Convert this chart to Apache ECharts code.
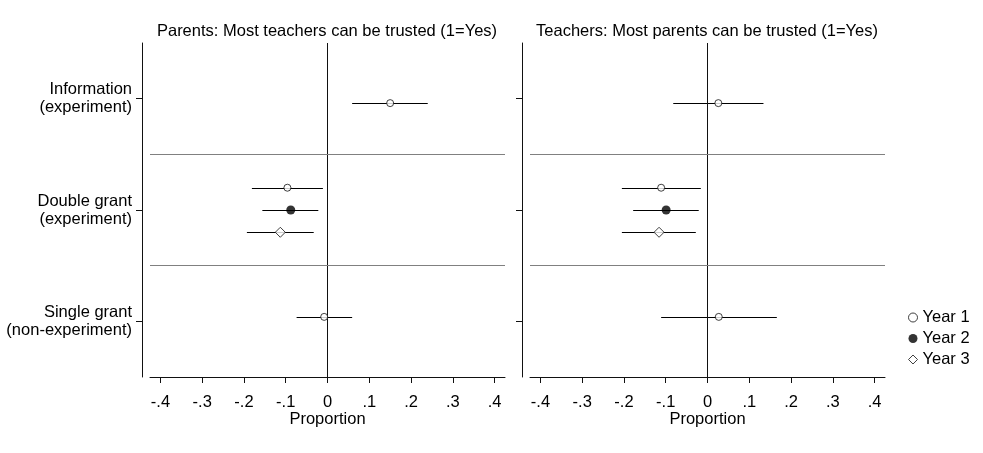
<!DOCTYPE html>
<html>
<head>
<meta charset="utf-8">
<script src="https://cdn.jsdelivr.net/npm/echarts@6/dist/echarts.min.js"></script>
<style>
  html, body { margin: 0; padding: 0; background: #fff; }
  #chart { width: 983px; height: 453px; }
</style>
</head>
<body>
<div id="chart"></div>
<script>
// categories top to bottom
var categories = ['Information\n(experiment)', 'Double grant\n(experiment)', 'Single grant\n(non-experiment)'];
var years = ['Year 1', 'Year 2', 'Year 3'];
var panelTitles = ['Parents: Most teachers can be trusted (1=Yes)', 'Teachers: Most parents can be trusted (1=Yes)'];

// [estimate, ci low, ci high] per category, null = not estimated
var parentsYear1 = [[0.150, 0.059, 0.240], [-0.096, -0.181, -0.011], [-0.008, -0.074, 0.059]];
var parentsYear2 = [null, [-0.088, -0.156, -0.022], null];
var parentsYear3 = [null, [-0.113, -0.193, -0.033], null];

var teachersYear1 = [[0.026, -0.082, 0.134], [-0.111, -0.205, -0.016], [0.027, -0.111, 0.166]];
var teachersYear2 = [null, [-0.099, -0.178, -0.021], null];
var teachersYear3 = [null, [-0.116, -0.205, -0.028], null];

var xTicks = [-0.4, -0.3, -0.2, -0.1, 0, 0.1, 0.2, 0.3, 0.4];
var xTickLabels = ['-.4', '-.3', '-.2', '-.1', '0', '.1', '.2', '.3', '.4'];

var FONT = 'Liberation Sans';
var FSIZE = 16.5;
var INK = '#111';

var markerStyles = [
    { symbol: 'circle', size: 7, itemStyle: { color: '#fff', borderColor: INK, borderWidth: 1 } },
    { symbol: 'circle', size: 9, itemStyle: { color: '#000', borderColor: '#000', borderWidth: 0 } },
    { symbol: 'diamond', size: 10, itemStyle: { color: '#fff', borderColor: INK, borderWidth: 1 } }
];

// vertical position of a point inside its category row
function rowPosition(catIndex, yearIndex, nYears) {
    if (nYears === 1) {
        return catIndex + 1 + (1 - catIndex) * 0.04;
    }
    return catIndex + 1 + (yearIndex - 1) * 0.2;
}

function countYears(yearArrays, catIndex) {
    var n = 0;
    yearArrays.forEach(function (arr) { if (arr[catIndex]) n++; });
    return n;
}

function errorBarRender(params, api) {
    var y = api.value(0);
    var p1 = api.coord([api.value(1), y]);
    var p2 = api.coord([api.value(2), y]);
    var py = Math.round(p1[1]) + 0.5;
    return {
        type: 'line',
        shape: { x1: p1[0], y1: py, x2: p2[0], y2: py },
        style: { stroke: '#000', lineWidth: 1.2 }
    };
}

function getPanelSeries(yearArrays, gridIndex) {
    var out = [];
    yearArrays.forEach(function (arr, yi) {
        var bars = [], points = [];
        arr.forEach(function (d, ci) {
            if (!d) return;
            var y = rowPosition(ci, yi, countYears(yearArrays, ci));
            bars.push([y, d[1], d[2]]);
            points.push([d[0], y]);
        });
        out.push({
            type: 'custom',
            xAxisIndex: gridIndex,
            yAxisIndex: gridIndex,
            renderItem: errorBarRender,
            encode: { x: [1, 2], y: 0 },
            data: bars,
            z: 2,
            silent: true
        });
        var s = {
            type: 'scatter',
            name: years[yi],
            xAxisIndex: gridIndex,
            yAxisIndex: gridIndex,
            symbol: markerStyles[yi].symbol,
            symbolSize: markerStyles[yi].size,
            itemStyle: markerStyles[yi].itemStyle,
            data: points,
            z: 5,
            silent: true
        };
        if (yi === 0) {
            s.markLine = {
                silent: true,
                symbol: 'none',
                label: { show: false },
                animation: false,
                data: [
                    { xAxis: 0, lineStyle: { color: INK, width: 1, type: 'solid' } },
                    { yAxis: 1.5, lineStyle: { color: '#808080', width: 1, type: 'solid' } },
                    { yAxis: 2.5, lineStyle: { color: '#808080', width: 1, type: 'solid' } }
                ]
            };
        }
        out.push(s);
    });
    return out;
}

function getXAxis(gridIndex) {
    return {
        type: 'value',
        gridIndex: gridIndex,
        min: -0.425,
        max: 0.425,
        name: 'Proportion',
        nameLocation: 'middle',
        nameGap: 34,
        nameMoveOverlap: false,
        nameTextStyle: { fontFamily: FONT, fontSize: FSIZE, color: '#000' },
        axisLine: { show: true, onZero: false, lineStyle: { color: INK, width: 1 } },
        axisTick: { show: true, length: 6, customValues: xTicks, lineStyle: { color: INK } },
        axisLabel: {
            customValues: xTicks,
            margin: 17,
            fontFamily: FONT,
            fontSize: FSIZE,
            color: '#000',
            formatter: function (v) {
                var i = xTicks.findIndex(function (t) { return Math.abs(t - v) < 1e-9; });
                return i >= 0 ? xTickLabels[i] : '';
            }
        },
        splitLine: { show: false }
    };
}

function getYAxis(gridIndex, showLabels) {
    return {
        type: 'value',
        gridIndex: gridIndex,
        inverse: true,
        min: 0.5,
        max: 3.5,
        offset: 8,
        axisLine: { show: true, onZero: false, lineStyle: { color: INK, width: 1 } },
        axisTick: { show: true, length: 6, customValues: [1, 2, 3], lineStyle: { color: INK } },
        axisLabel: {
            show: showLabels,
            customValues: [1, 2, 3],
            margin: 10,
            fontFamily: FONT,
            fontSize: FSIZE,
            lineHeight: 18,
            color: '#000',
            align: 'right',
            formatter: function (v) { return categories[Math.round(v) - 1] || ''; }
        },
        splitLine: { show: false }
    };
}

var myChart = echarts.init(document.getElementById('chart'), null, { renderer: 'canvas' });

var seriesArray = getPanelSeries([parentsYear1, parentsYear2, parentsYear3], 0)
    .concat(getPanelSeries([teachersYear1, teachersYear2, teachersYear3], 1));

var option = {
    animation: false,
    backgroundColor: '#fff',
    title: [
        { text: panelTitles[0], left: 322, top: 18, textAlign: 'center',
          textStyle: { fontFamily: FONT, fontSize: FSIZE, fontWeight: 'normal', color: '#000' } },
        { text: panelTitles[1], left: 702, top: 18, textAlign: 'center',
          textStyle: { fontFamily: FONT, fontSize: FSIZE, fontWeight: 'normal', color: '#000' } }
    ],
    grid: [
        { left: 150, top: 43, width: 355, height: 334 },
        { left: 530, top: 43, width: 355, height: 334 }
    ],
    xAxis: [getXAxis(0), getXAxis(1)],
    yAxis: [getYAxis(0, true), getYAxis(1, false)],
    legend: {
        orient: 'vertical',
        left: 903,
        top: 304,
        itemGap: 4,
        itemWidth: 9,
        itemHeight: 9,
        textStyle: { fontFamily: FONT, fontSize: FSIZE, color: '#000' },
        data: [
            { name: 'Year 1', icon: 'circle', itemStyle: { color: '#fff', borderColor: INK, borderWidth: 1 } },
            { name: 'Year 2', icon: 'circle', itemStyle: { color: '#000', borderColor: '#000', borderWidth: 0 } },
            { name: 'Year 3', icon: 'diamond', itemStyle: { color: '#fff', borderColor: INK, borderWidth: 1 } }
        ],
        selectedMode: false
    },
    series: seriesArray
};

myChart.setOption(option);
</script>
</body>
</html>
